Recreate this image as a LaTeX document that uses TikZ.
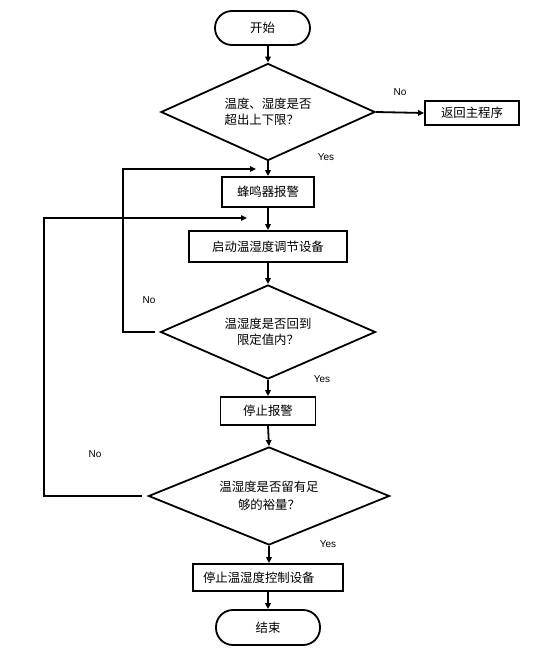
\documentclass[tikz,border=0pt]{standalone}
\usepackage{fontspec}
\setmainfont{Liberation Sans}
\newfontfamily\cjk{Noto Sans CJK SC}
\usetikzlibrary{shapes.geometric,arrows.meta}
\begin{document}
\begin{tikzpicture}[x=1pt,y=-1pt,
  base/.style={draw, line width=1.8pt, font=\cjk\fontsize{12.4}{16}\selectfont, inner sep=0pt},
  proc/.style={base, rectangle},
  term/.style={base, rectangle, rounded corners=17pt},
  dec/.style={base, diamond, aspect=2.3, inner sep=1pt},
  arr/.style={-{Triangle[length=6pt,width=5.5pt]}, line width=1.8pt},
  lbl/.style={font=\fontsize{10}{12}\selectfont, inner sep=0pt}]
\useasboundingbox (0,0) rectangle (538,656);
\fill[white] (0,0) rectangle (538,656);

\node[term, minimum width=95pt, minimum height=34pt] (start) at (262.5,28) {开始};
\node[dec, minimum width=214pt, minimum height=97pt, align=left] (d1) at (268,112) {温度、湿度是否\\超出上下限？};
\node[proc, minimum width=94pt, minimum height=24pt] (ret) at (472,113) {返回主程序};
\node[proc, minimum width=92pt, minimum height=30pt] (b1) at (268,192) {蜂鸣器报警};
\node[proc, minimum width=158pt, minimum height=31pt] (b2) at (268,246.5) {启动温湿度调节设备};
\node[dec, minimum width=215pt, minimum height=94pt, align=center] (d2) at (268,332) {温湿度是否回到\\限定值内？};
\node[proc, minimum width=95pt, minimum height=28pt] (b3) at (268,411) {停止报警};
\node[dec, minimum width=241pt, minimum height=98pt, align=center, font=\cjk\fontsize{12.4}{18}\selectfont] (d3) at (269,496) {温湿度是否留有足\\够的裕量？};
\node[proc, minimum width=150pt, minimum height=27pt, text width=130pt, inner xsep=10pt, align=left] (b4) at (268,577.5) {停止温湿度控制设备};
\node[term, minimum width=104pt, minimum height=35pt] (end) at (268,627.5) {结束};

\node[lbl] (no1) at (400,92) {No};
\node[lbl] (yes1) at (326,157) {Yes};
\node[lbl] (no2) at (149,300) {No};
\node[lbl] (yes2) at (322,379) {Yes};
\node[lbl] (no3) at (95,454) {No};
\node[lbl] (yes3) at (328,544) {Yes};

\coordinate (m1) at (268,169);
\coordinate (m2) at (268,218);
\coordinate (l1) at (123,169);
\coordinate (l2) at (44,218);

\draw[arr] (start.south -| d1.north) -- (d1.north);
\draw[arr] (d1.south) -- (b1.north);
\draw[arr] (d1.east) -- (ret.west);
\draw[arr] (b1.south) -- (b2.north);
\draw[arr] (b2.south) -- (d2.north);
\draw[arr] (d2.south) -- (b3.north);
\draw[arr] (b3.south) -- (d3.north);
\draw[arr] (d3.south) -- (d3.south |- b4.north);
\draw[arr] (b4.south) -- (end.north);

\draw[arr, line join=miter] ([xshift=-5pt]d2.west) -- (d2.west -| l1) -- (l1) -- ([xshift=-12pt]m1);
\draw[arr, line join=miter] ([xshift=-6pt]d3.west) -- (d3.west -| l2) -- (l2) -- ([xshift=-21pt]m2);
\end{tikzpicture}
\end{document}
